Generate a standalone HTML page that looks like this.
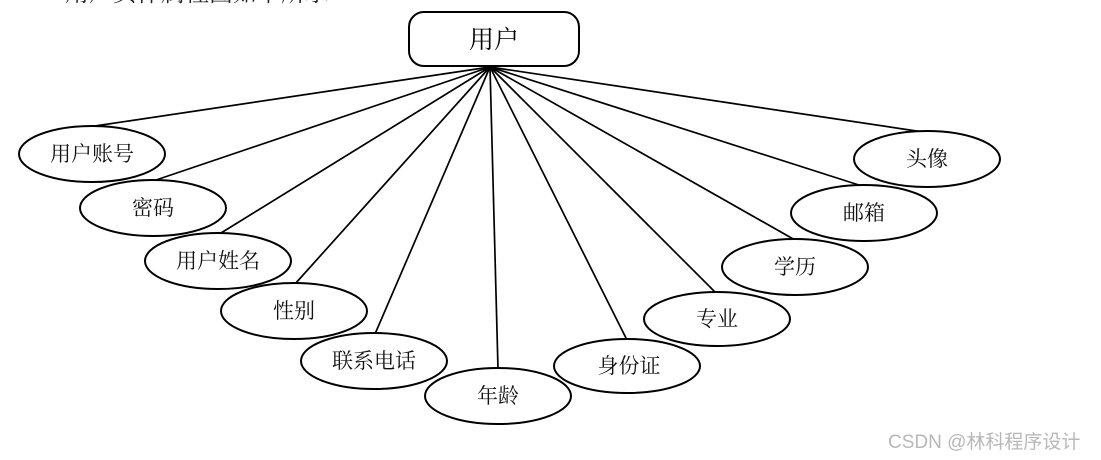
<!DOCTYPE html>
<html><head><meta charset="utf-8"><style>
html,body{margin:0;padding:0;background:#fff;width:1101px;height:460px;overflow:hidden;}
svg{display:block}
text{font-family:"Liberation Serif","Noto Serif CJK SC",serif;}
</style></head><body>
<svg width="1101" height="460" viewBox="0 0 1101 460" xmlns="http://www.w3.org/2000/svg">
<text x="65" y="1" font-size="24" fill="#222">用户实体属性图如下所示</text>
<g stroke="#000" stroke-width="1.7" fill="none">
<line x1="490" y1="67" x2="95" y2="126"/>
<line x1="490" y1="67" x2="156" y2="180"/>
<line x1="490" y1="67" x2="221" y2="233"/>
<line x1="490" y1="67" x2="295" y2="284"/>
<line x1="490" y1="67" x2="375" y2="334"/>
<line x1="490" y1="67" x2="498" y2="369"/>
<line x1="490" y1="67" x2="627" y2="340"/>
<line x1="490" y1="67" x2="716" y2="293"/>
<line x1="490" y1="67" x2="795" y2="240"/>
<line x1="490" y1="67" x2="862" y2="186"/>
<line x1="490" y1="67" x2="923" y2="132"/>
</g>
<rect x="409" y="12" width="170" height="54" rx="15" fill="#fff" stroke="#000" stroke-width="2"/>
<text x="494" y="48" font-size="25" text-anchor="middle">用户</text>
<g stroke="#000" stroke-width="2" fill="#fff">
<ellipse cx="92" cy="154" rx="73" ry="28"/>
<ellipse cx="153" cy="208" rx="73" ry="28"/>
<ellipse cx="218" cy="261" rx="73" ry="28"/>
<ellipse cx="294" cy="311" rx="73" ry="28"/>
<ellipse cx="374" cy="361" rx="73" ry="28"/>
<ellipse cx="498" cy="396" rx="73" ry="28"/>
<ellipse cx="627" cy="366" rx="73" ry="27"/>
<ellipse cx="717" cy="319" rx="73" ry="27"/>
<ellipse cx="795" cy="267" rx="73" ry="28"/>
<ellipse cx="864" cy="213" rx="73" ry="28"/>
<ellipse cx="927" cy="159" rx="73" ry="28"/>
</g>
<g font-size="21" fill="#111" text-anchor="middle">
<text x="92" y="161">用户账号</text>
<text x="153" y="215">密码</text>
<text x="218" y="268">用户姓名</text>
<text x="294" y="318">性别</text>
<text x="374" y="368">联系电话</text>
<text x="498" y="403">年龄</text>
<text x="629" y="373">身份证</text>
<text x="717" y="326">专业</text>
<text x="795" y="274">学历</text>
<text x="864" y="220">邮箱</text>
<text x="927" y="166">头像</text>
</g>
<text x="888" y="448" font-size="19" fill="#b8b8b8" font-family="Liberation Sans, Noto Sans CJK SC, sans-serif" style="font-family:'Liberation Sans','Noto Sans CJK SC',sans-serif">CSDN @林科程序设计</text>
</svg>
</body></html>
